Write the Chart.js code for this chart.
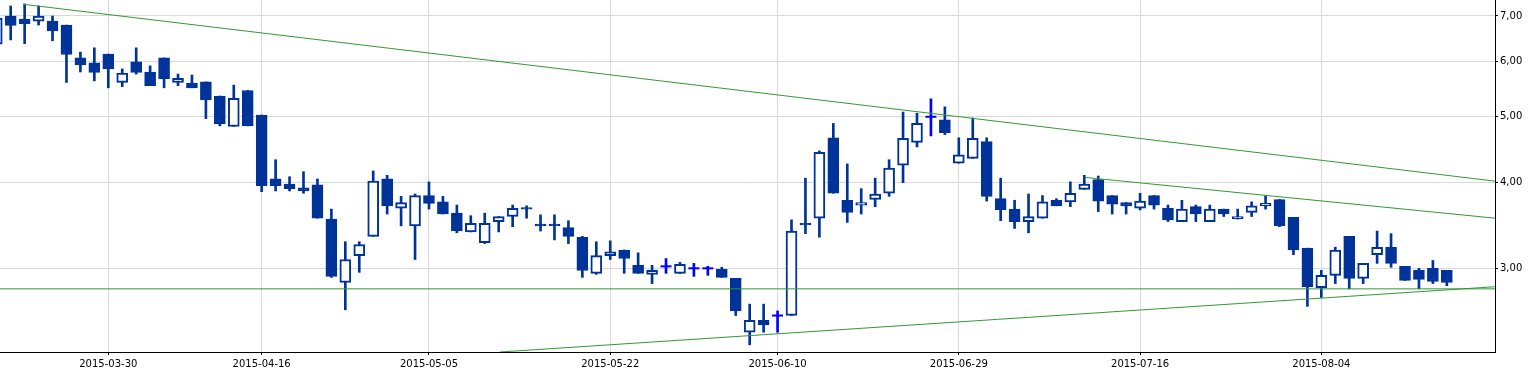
<!DOCTYPE html>
<html>
<head>
<meta charset="utf-8">
<script src="https://cdn.jsdelivr.net/npm/chart.js@4.4.0/dist/chart.umd.min.js"></script>
<style>
    html, body { margin: 0; padding: 0; background: #ffffff; }
    #wrap { width: 1535px; height: 371px; position: relative; }
</style>
</head>
<body>
<div id="wrap"><canvas id="chart"></canvas></div>
<script>
// trading days shown on the chart
const dates = [
    '2015-03-18','2015-03-19','2015-03-20','2015-03-23','2015-03-24','2015-03-25','2015-03-26','2015-03-27','2015-03-30','2015-03-31',
    '2015-04-01','2015-04-02','2015-04-07','2015-04-08','2015-04-09','2015-04-10','2015-04-13','2015-04-14','2015-04-15','2015-04-16',
    '2015-04-17','2015-04-20','2015-04-21','2015-04-22','2015-04-23','2015-04-24','2015-04-27','2015-04-28','2015-04-29','2015-04-30',
    '2015-05-04','2015-05-05','2015-05-06','2015-05-07','2015-05-08','2015-05-11','2015-05-12','2015-05-13','2015-05-14','2015-05-15',
    '2015-05-18','2015-05-19','2015-05-20','2015-05-21','2015-05-22','2015-05-25','2015-05-26','2015-05-27','2015-05-28','2015-05-29',
    '2015-06-01','2015-06-02','2015-06-03','2015-06-05','2015-06-08','2015-06-09','2015-06-10','2015-06-11','2015-06-12','2015-06-15',
    '2015-06-16','2015-06-17','2015-06-18','2015-06-19','2015-06-22','2015-06-23','2015-06-24','2015-06-25','2015-06-26','2015-06-29',
    '2015-06-30','2015-07-01','2015-07-02','2015-07-03','2015-07-06','2015-07-07','2015-07-08','2015-07-09','2015-07-10','2015-07-13',
    '2015-07-14','2015-07-15','2015-07-16','2015-07-17','2015-07-20','2015-07-21','2015-07-22','2015-07-23','2015-07-24','2015-07-27',
    '2015-07-28','2015-07-29','2015-07-30','2015-07-31','2015-08-03','2015-08-04','2015-08-05','2015-08-06','2015-08-07','2015-08-10',
    '2015-08-11','2015-08-12','2015-08-13','2015-08-14','2015-08-17'
];

const opens = [
    6.37, 7.00, 6.93, 6.88, 6.88, 6.79, 6.08, 5.98, 6.16, 5.60,
    6.00, 5.80, 6.08, 5.60, 5.59, 5.61, 5.35, 4.83, 5.45, 5.02,
    4.05, 3.98, 3.93, 3.97, 3.54, 2.86, 3.13, 3.34, 4.05, 3.67,
    3.46, 3.83, 3.75, 3.61, 3.39, 3.27, 3.51, 3.57, 3.68, 3.48,
    3.48, 3.44, 3.33, 2.95, 3.13, 3.19, 3.03, 2.94, 3.02, 2.95,
    3.00, 3.00, 2.99, 2.90, 2.42, 2.52, 2.56, 2.56, 3.49, 3.55,
    4.65, 3.77, 3.71, 3.78, 3.86, 4.24, 4.58, 4.99, 4.94, 4.27,
    4.34, 4.59, 3.79, 3.66, 3.51, 3.55, 3.77, 3.75, 3.91, 4.04,
    3.83, 3.74, 3.67, 3.83, 3.67, 3.51, 3.69, 3.51, 3.66, 3.54,
    3.62, 3.70, 3.78, 3.56, 3.21, 2.81, 2.93, 3.34, 2.90, 3.14,
    3.22, 3.02, 2.98, 3.00, 2.98
];

const highs = [
    7.05, 7.24, 7.29, 7.24, 7.00, 6.79, 6.20, 6.29, 6.16, 5.86,
    6.29, 5.92, 6.08, 5.76, 5.74, 5.61, 5.35, 5.55, 5.45, 5.02,
    4.32, 4.08, 4.15, 4.05, 3.66, 3.28, 3.28, 4.16, 4.10, 3.82,
    3.85, 4.01, 3.82, 3.71, 3.58, 3.61, 3.57, 3.71, 3.70, 3.59,
    3.59, 3.52, 3.34, 3.28, 3.29, 3.19, 3.16, 3.03, 3.10, 3.06,
    3.05, 3.02, 3.01, 2.90, 2.66, 2.66, 2.60, 3.53, 4.06, 4.45,
    4.88, 4.26, 3.92, 4.06, 4.32, 5.07, 5.05, 5.30, 5.16, 4.65,
    4.97, 4.65, 4.06, 3.77, 3.85, 3.83, 3.79, 4.01, 4.10, 4.09,
    3.83, 3.74, 3.86, 3.83, 3.71, 3.77, 3.71, 3.71, 3.66, 3.66,
    3.75, 3.83, 3.78, 3.56, 3.21, 2.98, 3.22, 3.34, 3.05, 3.40,
    3.37, 3.02, 3.00, 3.08, 2.98
];

const lows = [
    6.25, 6.46, 6.38, 6.79, 6.44, 5.60, 5.80, 5.63, 5.50, 5.52,
    5.76, 5.54, 5.50, 5.54, 5.50, 4.96, 4.84, 4.83, 4.84, 3.88,
    3.89, 3.89, 3.86, 3.55, 2.91, 2.61, 2.96, 3.34, 3.60, 3.46,
    3.09, 3.66, 3.60, 3.38, 3.39, 3.26, 3.39, 3.45, 3.55, 3.40,
    3.30, 3.26, 2.91, 2.94, 3.09, 2.95, 2.95, 2.85, 2.95, 2.95,
    2.92, 2.93, 2.91, 2.56, 2.32, 2.42, 2.42, 2.56, 3.37, 3.33,
    3.86, 3.50, 3.60, 3.69, 3.82, 4.00, 4.51, 4.68, 4.70, 4.27,
    4.34, 3.76, 3.52, 3.43, 3.38, 3.55, 3.70, 3.69, 3.91, 3.63,
    3.60, 3.60, 3.65, 3.66, 3.51, 3.51, 3.51, 3.51, 3.57, 3.54,
    3.57, 3.66, 3.45, 3.14, 2.64, 2.72, 2.85, 2.80, 2.85, 3.05,
    3.01, 2.88, 2.80, 2.85, 2.83
];

const closes = [
    6.95, 6.78, 6.82, 7.00, 6.66, 6.15, 5.94, 5.79, 5.86, 5.78,
    5.79, 5.54, 5.67, 5.68, 5.50, 5.28, 4.87, 5.31, 4.84, 3.96,
    3.96, 3.92, 3.89, 3.55, 2.92, 3.09, 3.25, 4.02, 3.70, 3.74,
    3.83, 3.73, 3.60, 3.40, 3.49, 3.49, 3.57, 3.67, 3.66, 3.46,
    3.46, 3.34, 2.98, 3.13, 3.17, 3.10, 2.95, 2.98, 3.02, 3.04,
    3.00, 3.00, 2.91, 2.60, 2.52, 2.48, 2.56, 3.40, 3.47, 4.43,
    3.86, 3.62, 3.74, 3.85, 4.20, 4.64, 4.88, 4.99, 4.73, 4.39,
    4.64, 3.82, 3.65, 3.51, 3.57, 3.75, 3.70, 3.86, 3.98, 3.76,
    3.72, 3.70, 3.76, 3.71, 3.53, 3.66, 3.60, 3.66, 3.60, 3.57,
    3.70, 3.73, 3.46, 3.19, 2.82, 2.93, 3.19, 2.90, 3.05, 3.22,
    3.05, 2.88, 2.89, 2.87, 2.86
];

// axis labels
const labelDates = ['2015-03-30', '2015-04-16', '2015-05-05', '2015-05-22', '2015-06-10', '2015-06-29', '2015-07-16', '2015-08-04'];
const priceTicks = [3, 4, 5, 6, 7];

// trend lines, x = trading day index, y = price
const upperTrend = [{ x: 1.9, y: 7.28 }, { x: 107.455, y: 4.02 }];
const innerTrend = [{ x: 78.1, y: 4.07 }, { x: 107.455, y: 3.55 }];
const supportLine = [{ x: 0.233, y: 2.80 }, { x: 107.455, y: 2.80 }];
const risingTrend = [{ x: 36.09, y: 2.265 }, { x: 107.455, y: 2.82 }];

// visible range
const X_MIN = 0.233, X_MAX = 107.455;
const Y_MIN = 2.265, Y_MAX = 7.386;

const DOWN = '#003399';
const DOJI = '#0000ff';
const TREND = '#339933';
const GRID = '#d9d9d9';

const bodyPts = [], bodyFill = [];
const wickPts = [], wickColor = [];
const dojiPts = [];
dates.forEach((d, i) => {
    const o = opens[i], c = closes[i];
    wickPts.push({ x: i, y: [lows[i], highs[i]] });
    if (o === c) {
        dojiPts.push({ x: i, y: o });
        wickColor.push(DOJI);
    } else {
        bodyPts.push({ x: i, y: [o, c] });
        bodyFill.push(c < o ? DOWN : '#ffffff');
        wickColor.push(DOWN);
    }
});

function trendSet(points) {
    return {
        type: 'line',
        data: points,
        borderColor: TREND,
        borderWidth: 1,
        pointRadius: 0,
        fill: false,
        tension: 0,
        order: 0
    };
}

const font = { family: 'DejaVu Sans', size: 10 };

new Chart(document.getElementById('chart'), {
    type: 'bar',
    data: {
        datasets: [
            trendSet(upperTrend),
            trendSet(innerTrend),
            trendSet(supportLine),
            trendSet(risingTrend),
            {
                type: 'line',
                data: dojiPts,
                showLine: false,
                pointStyle: 'line',
                pointRadius: 5.5,
                pointBorderWidth: 2,
                pointBorderColor: DOJI,
                borderColor: DOJI,
                order: 1
            },
            {
                data: bodyPts,
                backgroundColor: bodyFill,
                borderColor: DOWN,
                borderWidth: 2,
                borderSkipped: false,
                barThickness: 11,
                grouped: false,
                order: 2
            },
            {
                data: wickPts,
                backgroundColor: wickColor,
                borderWidth: 0,
                barThickness: 2,
                grouped: false,
                order: 3
            }
        ]
    },
    options: {
        responsive: true,
        maintainAspectRatio: false,
        animation: false,
        layout: { padding: 0, autoPadding: false },
        plugins: {
            legend: { display: false },
            tooltip: { enabled: false },
            title: { display: false }
        },
        scales: {
            x: {
                type: 'linear',
                min: X_MIN,
                max: X_MAX,
                bounds: 'data',
                offset: false,
                grid: { offset: false, color: GRID, tickColor: '#000000', tickLength: 3 },
                border: { color: '#000000', width: 1 },
                afterBuildTicks: axis => {
                    axis.ticks = labelDates.map(d => ({ value: dates.indexOf(d) }));
                },
                ticks: {
                    autoSkip: false,
                    maxRotation: 0,
                    padding: 3,
                    color: '#000000',
                    font: font,
                    callback: v => dates[v]
                },
                afterFit: axis => {
                    axis.height = 19;
                    axis.paddingLeft = 0;
                    axis.paddingRight = 0;
                }
            },
            y: {
                type: 'logarithmic',
                position: 'right',
                min: Y_MIN,
                max: Y_MAX,
                bounds: 'data',
                grid: { color: GRID, tickColor: '#000000', tickLength: 3 },
                border: { color: '#000000', width: 1 },
                afterBuildTicks: axis => {
                    axis.ticks = priceTicks.map(v => ({ value: v }));
                },
                ticks: {
                    padding: 2,
                    color: '#000000',
                    font: font,
                    callback: v => Number(v).toFixed(2).replace('.', ',')
                },
                afterFit: axis => {
                    axis.width = 40;
                    axis.paddingTop = 0;
                    axis.paddingBottom = 0;
                }
            }
        }
    }
});
</script>
</body>
</html>
